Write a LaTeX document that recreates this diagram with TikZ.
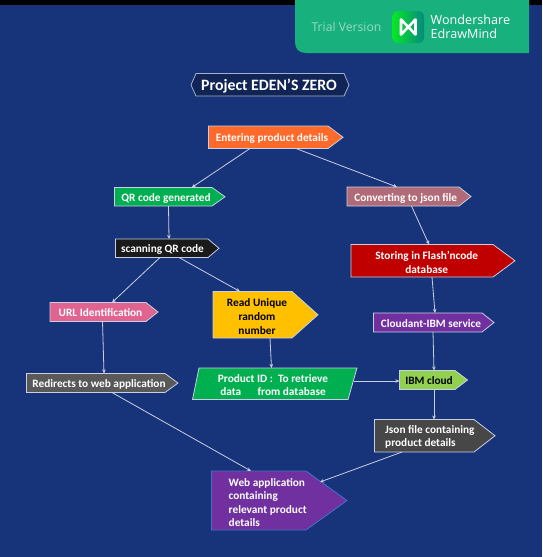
\documentclass[tikz,border=0pt]{standalone}
\usepackage{fontspec}
\setmainfont{Carlito}
\newfontfamily\bannerfont{Open Sans}
\usetikzlibrary{arrows.meta}
\definecolor{bgblue}{HTML}{17347A}
\definecolor{edgelight}{HTML}{C9CFE2}
\definecolor{bannergreen}{HTML}{18B07C}
\definecolor{cOrange}{HTML}{FF6A2B}
\definecolor{cGreen}{HTML}{00B050}
\definecolor{cBlack}{HTML}{1A1A1A}
\definecolor{cRose}{HTML}{B06A78}
\definecolor{cRed}{HTML}{C00000}
\definecolor{cPurple}{HTML}{7030A0}
\definecolor{cPink}{HTML}{E0648F}
\definecolor{cYellow}{HTML}{FFC000}
\definecolor{cGrey}{HTML}{595959}
\definecolor{cLime}{HTML}{92D050}
\definecolor{cDark}{HTML}{474747}
\definecolor{cWebEdge}{HTML}{4472C4}
\tikzset{
  x=1pt,y=-1pt,
  shapeline/.style={draw=edgelight,line width=0.8pt,line join=miter},
  body/.style={inner sep=0pt,outer sep=0pt,rectangle},
  labeltext/.style={font=\bfseries\fontsize{11.3}{13.6}\selectfont,align=center,inner sep=0pt,text=white,yshift=-1pt},
  conn/.style={draw=edgelight,line width=0.8pt,-{Stealth[length=4pt,width=3.6pt]}},
}
% name, x0, xs, xt, y0, y1, fill
\newcommand{\pent}[7]{%
  \path[shapeline,fill=#7] (#2,#5) -- (#3,#5) -- (#4,{(#5+#6)/2}) -- (#3,#6) -- (#2,#6) -- cycle;
  \node[body,minimum width={(#3-#2)*1pt},minimum height={(#6-#5)*1pt}] (#1) at ({(#2+#3)/2},{(#5+#6)/2}) {};
}
\begin{document}
\begin{tikzpicture}
\useasboundingbox (0,0) rectangle (542,557);
\fill[bgblue] (0,0) rectangle (542,557);
\fill[black] (0,0) rectangle (542,4.5);
% banner
\fill[bannergreen] (295,0) -- (529,0) -- (529,53) -- (306,53) .. controls (299,53) and (295,49) .. (295,42) -- cycle;
\node[font=\bannerfont\fontsize{12.2}{14}\selectfont,text=white!55!bannergreen,inner sep=0pt] (trial) at (346.5,27) {Trial Version};
\shade[left color=green!70!bannergreen,right color=teal!80!bannergreen,rounded corners=5pt] (392.5,11) rectangle (424,43);
\draw[white,line width=2.6pt,line join=round] (401,19.5) -- (401,34.5) -- (415.5,19.5) -- (415.5,34.5) -- cycle;
\node[font=\bannerfont\fontsize{12.6}{13.5}\selectfont,text=white,align=left,anchor=west,inner sep=0pt] (brand) at (430.5,27) {Wondershare\\EdrawMind};
% title
\path[draw=edgelight!80!bgblue,line width=0.8pt,fill=bgblue!70!black] (191,85) -- (196,73.5) -- (344,73.5) -- (349,85) -- (344,96) -- (196,96) -- cycle;
\node[font=\bfseries\fontsize{15.8}{17}\selectfont,text=white,inner sep=0pt,yshift=-1pt] (title) at (269,85) {Project EDEN'S ZERO};
% shapes
\pent{ent}{208.5}{328}{343}{126}{148.5}{cOrange}
\pent{qr}{114.5}{212}{225}{187.5}{206}{cGreen}
\pent{scan}{115.5}{208}{219}{239}{257.5}{cBlack}
\pent{conv}{347}{459}{471}{187}{206}{cRose}
\pent{stor}{351}{493}{515}{244.5}{277}{cRed}
\pent{cloud}{373.5}{482}{494}{313}{332}{cPurple}
\pent{url}{50}{146}{158}{302.5}{321.5}{cPink}
\pent{read}{213}{292}{318}{291.5}{338}{cYellow}
\pent{redir}{26.5}{165}{178}{373.5}{392.5}{cGrey}
\pent{ibm}{399.5}{455}{467.5}{370.5}{389.5}{cLime}
\pent{json}{374.5}{474}{495}{419.5}{452}{cDark}
\path[draw=cWebEdge,line width=0.8pt,fill=cPurple] (211.5,471) -- (306,471) -- (347,500.5) -- (306,530) -- (211.5,530) -- cycle;
\node[body,minimum width=94.5pt,minimum height=59pt] (web) at (258.75,500.5) {};
\path[shapeline,fill=cGreen] (199,368) -- (357,368) -- (348,399.5) -- (192.5,399.5) -- cycle;
\node[body,minimum width=153pt,minimum height=31.5pt] (prod) at (275,383.75) {};
\coordinate (webslope) at (320,482);
% texts
\node[labeltext] (entT) at (272,137.5) {Entering product details};
\node[labeltext] (qrT) at (166,197) {QR code generated};
\node[labeltext] (scanT) at (162.5,248.5) {scanning QR code};
\node[labeltext] (convT) at (405.8,197) {Converting to json file};
\node[labeltext] (storT) at (426.7,261.5) {Storing in Flash'ncode\\database};
\node[labeltext] (cloudT) at (431,323) {Cloudant-IBM service};
\node[labeltext] (urlT) at (100.5,312) {URL Identification};
\node[labeltext,text=black] (readT) at (257,315.5) {Read Unique\\random\\number};
\node[labeltext] (redirT) at (99,383) {Redirects to web application};
\node[labeltext] (prodT) at (273,384) {Product ID :\ \ To retrieve\\data\quad\ \ from database};
\node[labeltext,text=black] (ibmT) at (429,380) {IBM cloud};
\node[labeltext,align=left,anchor=west] (jsonT) at (385,436) {Json file containing\\product details};
\node[labeltext,align=left,anchor=west] (webT) at (228.5,501.5) {Web application\\containing\\relevant product\\details};
% connectors
\draw[conn] (250,0 |- ent.south) -- (191.7,0 |- qr.north);
\draw[conn] (296,0 |- ent.south) -- (397,0 |- conv.north);
\draw[conn] (168.5,0 |- qr.south) -- (169,0 |- scan.north);
\draw[conn] (160,0 |- scan.south) -- (112,0 |- url.north);
\draw[conn] (179,0 |- scan.south) -- (240,0 |- read.north);
\draw[conn] (411.5,0 |- conv.south) -- (429,0 |- stor.north);
\draw[conn] (432,0 |- stor.south) -- (435,0 |- cloud.north);
\draw[conn] (433,0 |- cloud.south) -- (434,0 |- ibm.north);
\draw[conn] (270,0 |- read.south) -- (271.5,0 |- prod.north);
\draw[conn] (102.5,0 |- url.south) -- (104,0 |- redir.north);
\draw[conn] (112,0 |- redir.south) -- (251,0 |- web.north);
\draw[conn] (402,0 |- json.south) -- (webslope);
\draw[conn] (354,381) -- (ibm.west |- 354,381);
\draw[conn] (434,0 |- ibm.south) -- (434,0 |- json.north);
\end{tikzpicture}
\end{document}
